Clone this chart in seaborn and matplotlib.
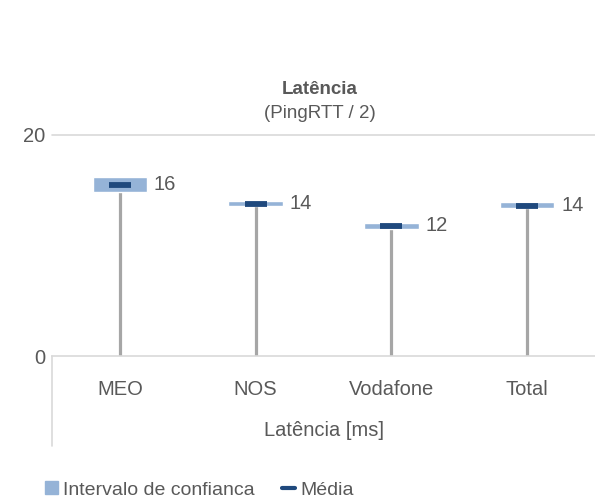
import matplotlib
matplotlib.use("Agg")
import matplotlib.pyplot as plt
import matplotlib.patches as mpatches
from matplotlib.lines import Line2D
import seaborn as sns
import pandas as pd

# ── data ──────────────────────────────────────────────────────────────────────
operators = ["MEO", "NOS", "Vodafone", "Total"]
mean_ms   = [15.5, 13.8, 11.8, 13.6]
ci_low    = [14.8, 13.6, 11.5, 13.35]
ci_high   = [16.2, 14.05, 12.05, 13.9]
labels    = ["16", "14", "12", "14"]

LIGHT = "#95b3d7"
DARK  = "#1f497d"
STEM  = "#a6a6a6"
GRID  = "#d9d9d9"
TXT   = "#595959"

sns.set_style("white")
plt.rcParams["font.family"] = ["Liberation Sans", "DejaVu Sans"]

df = pd.DataFrame({"op": operators, "mean": mean_ms, "lo": ci_low, "hi": ci_high})
x = list(range(len(operators)))

fig = plt.figure(figsize=(5.95, 5.01), dpi=100)
ax = fig.add_axes([52 / 595, 1 - 356 / 501, 1 - 52 / 595, (356 - 135) / 501])

# stems from 0 to mean
ax.vlines(x, 0, df["mean"], color=STEM, linewidth=2.3, zorder=1)
# confidence interval boxes
ax.bar(x, df["hi"] - df["lo"], bottom=df["lo"], width=0.4, color=LIGHT, zorder=2)
# mean dash
sns.scatterplot(x=x, y=df["mean"], marker="_", s=260, linewidth=4.2,
                color=DARK, ax=ax, zorder=3, legend=False)

for xi, m, lab in zip(x, df["mean"], labels):
    ax.text(xi + 0.25, m, lab, ha="left", va="center", fontsize=14.5, color=TXT)

ax.set_xlim(-0.5, 3.5)
ax.set_ylim(0, 20)
ax.set_yticks([0, 20])
ax.set_yticklabels(["0", "20"], fontsize=14.5, color=TXT)
ax.set_ylabel("")
ax.set_xlabel("")
ax.axhline(20, color=GRID, linewidth=1.2, clip_on=False, zorder=0)
ax.set_xticks(x)
ax.set_xticklabels(operators, fontsize=14.5, color=TXT)
ax.tick_params(axis="x", length=0, pad=17)
ax.tick_params(axis="y", length=0, pad=5)
sns.despine(ax=ax, left=True, right=True, top=True, bottom=False)
ax.spines["bottom"].set_color(GRID)
ax.spines["bottom"].set_linewidth(1.2)

# multi-level category axis: left boundary line and group label
fig.add_artist(Line2D([52 / 595, 52 / 595], [1 - 356 / 501, 1 - 446 / 501],
                      color=GRID, linewidth=1.2))
fig.text((52 + 595) / 2 / 595, 1 - 430 / 501, "Latência [ms]",
         ha="center", va="center", fontsize=14.5, color=TXT)

# titles
fig.text(320 / 595, 1 - 89 / 501, "Latência", ha="center", va="center",
         fontsize=13.5, fontweight="bold", color=TXT)
fig.text(320 / 595, 1 - 113 / 501, "(PingRTT / 2)", ha="center", va="center",
         fontsize=13.5, color=TXT)

handles = [
    mpatches.Patch(color=LIGHT, label="Intervalo de confianca"),
    Line2D([], [], color=DARK, linewidth=3, label="Média"),
]
leg = fig.legend(handles=handles, loc="center left", bbox_to_anchor=(45 / 595, 1 - 490 / 501),
                 ncol=2, frameon=False, fontsize=14, handlelength=0.65, handleheight=0.65,
                 handletextpad=0.3, columnspacing=1.4, borderpad=0, borderaxespad=0)
for t in leg.get_texts():
    t.set_color(TXT)

fig.savefig("out.png", dpi=100)
